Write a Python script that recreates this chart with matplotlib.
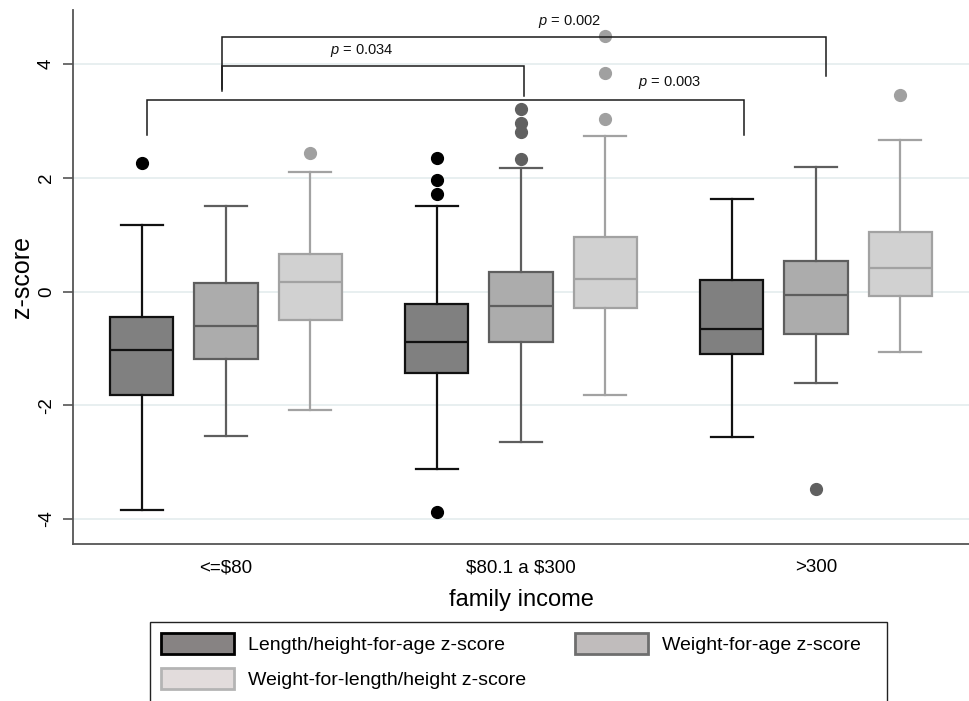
import matplotlib
matplotlib.use("Agg")
import matplotlib.pyplot as plt
from matplotlib.patches import Patch, Rectangle

plt.rcParams['font.family'] = ['Liberation Sans', 'DejaVu Sans']
plt.rcParams['mathtext.fontset'] = 'custom'
plt.rcParams['mathtext.it'] = 'Liberation Sans:italic'
plt.rcParams['mathtext.rm'] = 'Liberation Sans'

# ---------------- data ----------------
groups = ["<=$80", "$80.1 a $300", ">300"]
series = ["Length/height-for-age z-score", "Weight-for-age z-score",
          "Weight-for-length/height z-score"]

# Length/height-for-age z-score
hfa_whislo = [-3.84, -3.12, -2.56]
hfa_q1 = [-1.82, -1.43, -1.10]
hfa_med = [-1.03, -0.89, -0.66]
hfa_q3 = [-0.45, -0.22, 0.20]
hfa_whishi = [1.17, 1.50, 1.63]
hfa_fliers = [[2.26], [2.35, 1.96, 1.71, -3.88], []]

# Weight-for-age z-score
wfa_whislo = [-2.54, -2.65, -1.61]
wfa_q1 = [-1.19, -0.89, -0.75]
wfa_med = [-0.61, -0.25, -0.06]
wfa_q3 = [0.15, 0.34, 0.54]
wfa_whishi = [1.50, 2.17, 2.19]
wfa_fliers = [[], [2.33, 3.21, 2.96, 2.80], [-3.47]]

# Weight-for-length/height z-score
wfl_whislo = [-2.08, -1.82, -1.06]
wfl_q1 = [-0.50, -0.29, -0.08]
wfl_med = [0.17, 0.22, 0.41]
wfl_q3 = [0.66, 0.96, 1.05]
wfl_whishi = [2.10, 2.73, 2.66]
wfl_fliers = [[2.44], [3.03, 3.84, 4.50], [3.45]]

# significance brackets: (x_left, x_right, y_bar, y_left_end, y_right_end, label, text_x, text_y)
brackets = [
    (0.986, 3.034, 4.475, 3.525, 3.79, "0.002", 2.166, 4.74),
    (0.986, 2.010, 3.965, 3.56, 3.44, "0.034", 1.461, 4.23),
    (0.732, 2.756, 3.367, 2.75, 2.75, "0.003", 2.502, 3.68),
]

# ---------------- styling ----------------
fills = ["#808080", "#acacac", "#d1d1d1"]
edges = ["#111111", "#5e5e5e", "#a2a2a2"]
flier_cols = ["#000000", "#606060", "#a0a0a0"]
leg_fills = ["#878383", "#c0bcbc", "#e2dcdc"]
leg_edges = ["#000000", "#6e6e6e", "#b4b4b4"]
offsets = [-0.285, 0.0, 0.285]

fig = plt.figure(figsize=(9.7, 7.01), dpi=100)
ax = fig.add_axes([73/970, 1-544/701, (970-73)/970, (544-10)/701])

all_series = [
    (hfa_whislo, hfa_q1, hfa_med, hfa_q3, hfa_whishi, hfa_fliers),
    (wfa_whislo, wfa_q1, wfa_med, wfa_q3, wfa_whishi, wfa_fliers),
    (wfl_whislo, wfl_q1, wfl_med, wfl_q3, wfl_whishi, wfl_fliers),
]

for i, (lo, q1, med, q3, hi, fl) in enumerate(all_series):
    stats = []
    for j in range(len(groups)):
        stats.append(dict(whislo=lo[j], q1=q1[j], med=med[j], q3=q3[j],
                          whishi=hi[j], fliers=fl[j]))
    pos = [j + 1 + offsets[i] for j in range(len(groups))]
    lw = 1.6
    ax.bxp(stats, positions=pos, widths=0.214, patch_artist=True,
           manage_ticks=False, capwidths=0.142,
           boxprops=dict(facecolor=fills[i], edgecolor=edges[i], linewidth=lw),
           whiskerprops=dict(color=edges[i], linewidth=lw),
           capprops=dict(color=edges[i], linewidth=lw),
           medianprops=dict(color=edges[i], linewidth=lw),
           flierprops=dict(marker='o', markerfacecolor=flier_cols[i],
                           markeredgecolor=flier_cols[i], markersize=8.5))

# brackets
for xl, xr, yb, yle, yre, lab, tx, ty in brackets:
    ax.plot([xl, xl, xr, xr], [yle, yb, yb, yre], color="#1a1a1a", lw=1.1,
            zorder=4, solid_joinstyle='miter')
    ax.text(tx, ty, r"$\it{p}$ = " + lab, ha='center', va='center',
            fontsize=10.5, color="#111111")

ax.set_xlim(0.4814, 3.522)
ax.set_ylim(-4.44, 4.95)
ax.set_yticks([-4, -2, 0, 2, 4])
ax.set_yticklabels(["-4", "-2", "0", "2", "4"], rotation=90, va='center')
ax.set_xticks([1, 2, 3])
ax.set_xticklabels(groups, parse_math=False)
ax.tick_params(axis='y', direction='out', length=7, width=1.2, color="#555555",
               labelsize=13.5, pad=6)
ax.tick_params(axis='x', length=0, labelsize=13.5, pad=11)
ax.grid(axis='y', color="#e4ecee", lw=1.2)
ax.set_axisbelow(True)
for s in ["top", "right"]:
    ax.spines[s].set_visible(False)
for s in ["left", "bottom"]:
    ax.spines[s].set_color("#555555")
    ax.spines[s].set_linewidth(1.3)

ax.set_xlabel("family income", fontsize=17, labelpad=9)
ax.set_ylabel("z-score", fontsize=18, labelpad=3)

# legend frame (runs off the bottom edge as in the reference)
frame = Rectangle((150/970, -0.05), 737/970, 0.05 + (701-622)/701,
                  transform=fig.transFigure, facecolor='white',
                  edgecolor="#222222", linewidth=1.0, zorder=1)
fig.patches.append(frame)

order = [0, 2, 1]
handles = [Patch(facecolor=leg_fills[k], edgecolor=leg_edges[k], linewidth=2,
                 label=series[k]) for k in order]
leg = fig.legend(handles=handles, loc='upper left', ncol=2,
                 bbox_to_anchor=(150/970, 1-622/701),
                 fontsize=14, handlelength=3.75, handleheight=1.3,
                 handletextpad=0.72, labelspacing=0.72, borderpad=0.55,
                 columnspacing=2.55, borderaxespad=0, frameon=False)
leg.set_zorder(3)

fig.savefig("out.png", dpi=100)
